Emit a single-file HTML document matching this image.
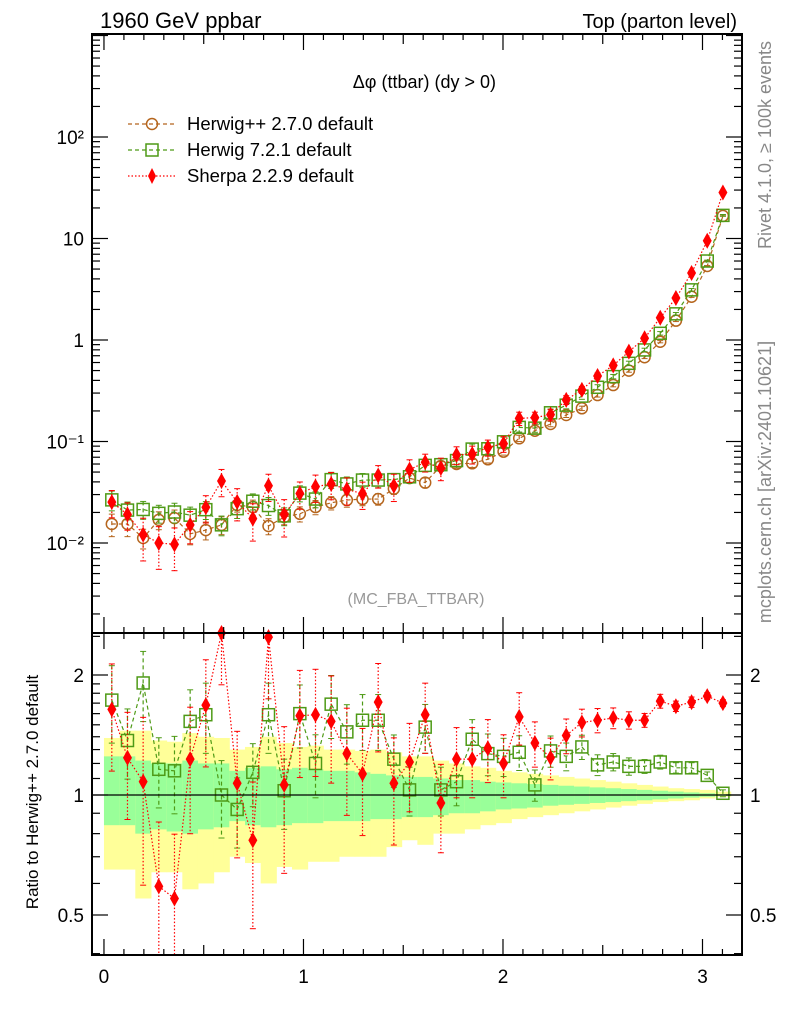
<!DOCTYPE html>
<html><head><meta charset="utf-8"><style>
html,body{margin:0;padding:0;background:#fff;}
svg{display:block;font-family:"Liberation Sans",sans-serif;}
</style></head><body>
<svg id="chart" width="786" height="1024" viewBox="0 0 786 1024" xmlns="http://www.w3.org/2000/svg">
<rect width="786" height="1024" fill="#fff"/>
<g id="bands"></g>
<g id="marks"></g>
<g id="axes"></g>
<text x="100" y="28" font-size="22">1960 GeV ppbar</text>
<text x="737" y="28" font-size="20" text-anchor="end">Top (parton level)</text>
<text x="496" y="88" font-size="18" text-anchor="end">Δφ (ttbar) (dy &gt; 0)</text>
<text x="416" y="604" font-size="16" fill="#999" text-anchor="middle">(MC_FBA_TTBAR)</text>
<text transform="translate(771,145) rotate(-90)" font-size="18" fill="#888" text-anchor="middle">Rivet 4.1.0, ≥ 100k events</text>
<text transform="translate(771,482) rotate(-90)" font-size="18" fill="#888" text-anchor="middle">mcplots.cern.ch [arXiv:2401.10621]</text>
<text transform="translate(38,792) rotate(-90)" font-size="17" text-anchor="middle">Ratio to Herwig++ 2.7.0 default</text>
<g>
 <g>
  <line x1="128" y1="124" x2="176" y2="124" stroke="#b5651d" stroke-width="1.2" stroke-dasharray="4,3"/>
  <circle cx="152" cy="124" r="5.5" fill="none" stroke="#b5651d" stroke-width="1.5"/>
  <text x="187" y="130" font-size="18.5">Herwig++ 2.7.0 default</text>
 </g>
 <g>
  <line x1="128" y1="150" x2="176" y2="150" stroke="#4e9a16" stroke-width="1.2" stroke-dasharray="4,3"/>
  <rect x="146" y="144" width="12" height="12" fill="none" stroke="#4e9a16" stroke-width="1.5"/>
  <text x="187" y="156" font-size="18.5">Herwig 7.2.1 default</text>
 </g>
 <g>
  <line x1="128" y1="176" x2="176" y2="176" stroke="#f00" stroke-width="1.2" stroke-dasharray="1.5,2"/>
  <path d="M152,168 L156,176 L152,184 L148,176Z" fill="#f00"/>
  <text x="187" y="182" font-size="18.5">Sherpa 2.2.9 default</text>
 </g>
</g>
</svg>
<script>
const herwigpp = [0.0154,0.0154,0.0112,0.0169,0.0176,0.0123,0.0134,0.0151,0.0237,0.0226,0.0147,0.0180,0.0194,0.0226,0.0249,0.0265,0.0271,0.0271,0.0342,0.0436,0.0393,0.0574,0.0601,0.0610,0.0668,0.0794,0.1076,0.1277,0.1487,0.1824,0.2124,0.287,0.360,0.499,0.676,0.962,1.55,2.67,5.36,16.7];
const herwig7 = [0.0266,0.0211,0.0214,0.0196,0.0202,0.0188,0.0213,0.0151,0.0218,0.0258,0.0234,0.0185,0.0310,0.0271,0.0421,0.0382,0.0417,0.0417,0.0421,0.0449,0.0582,0.0591,0.0649,0.0842,0.0848,0.0993,0.1377,0.1354,0.1918,0.228,0.280,0.342,0.436,0.589,0.798,1.164,1.81,3.12,6.00,16.9];
const sherpa = [0.0253,0.0191,0.0121,0.0100,0.0097,0.0151,0.0225,0.0408,0.0254,0.0174,0.0366,0.0191,0.0307,0.0359,0.0381,0.0337,0.0306,0.0463,0.0366,0.0528,0.0625,0.0548,0.0739,0.0750,0.0875,0.0953,0.169,0.172,0.184,0.257,0.323,0.442,0.562,0.768,1.041,1.655,2.59,4.57,9.49,28.4];
const herwig7Ratio = [1.73,1.37,1.91,1.16,1.15,1.53,1.59,1.0,0.92,1.14,1.59,1.025,1.6,1.2,1.69,1.44,1.54,1.54,1.23,1.03,1.48,1.03,1.08,1.38,1.27,1.25,1.28,1.06,1.29,1.25,1.32,1.19,1.21,1.18,1.18,1.21,1.17,1.17,1.12,1.01];
const sherpaRatio = [1.64,1.24,1.08,0.59,0.55,1.23,1.68,2.7,1.07,0.77,2.49,1.06,1.58,1.59,1.53,1.27,1.13,1.71,1.07,1.21,1.59,0.955,1.23,1.23,1.31,1.20,1.57,1.35,1.24,1.41,1.52,1.54,1.56,1.54,1.54,1.72,1.67,1.71,1.77,1.70];
const herwig7RelErr = [0.22,0.2,0.2,0.2,0.22,0.2,0.2,0.22,0.2,0.18,0.2,0.2,0.18,0.18,0.18,0.17,0.16,0.16,0.15,0.14,0.14,0.14,0.13,0.12,0.12,0.11,0.1,0.09,0.09,0.08,0.07,0.06,0.05,0.05,0.04,0.04,0.03,0.03,0.02,0.02];
const sherpaRelErr = [0.3,0.3,0.45,0.45,0.45,0.35,0.3,0.3,0.35,0.4,0.3,0.4,0.3,0.3,0.3,0.3,0.3,0.25,0.3,0.25,0.2,0.25,0.2,0.2,0.18,0.18,0.15,0.13,0.12,0.1,0.08,0.07,0.06,0.05,0.04,0.04,0.03,0.03,0.02,0.02];
const bandYellowUp = [1.39,1.45,1.45,1.37,1.36,1.43,1.40,1.39,1.30,1.32,1.40,1.35,1.32,1.33,1.30,1.30,1.29,1.30,1.28,1.25,1.25,1.22,1.20,1.18,1.17,1.15,1.14,1.13,1.12,1.11,1.10,1.09,1.08,1.07,1.06,1.05,1.04,1.035,1.03,1.02];
const bandYellowDn = [0.65,0.65,0.55,0.64,0.64,0.58,0.60,0.64,0.70,0.675,0.60,0.66,0.65,0.68,0.68,0.70,0.70,0.70,0.74,0.77,0.75,0.80,0.80,0.82,0.84,0.85,0.87,0.88,0.89,0.90,0.91,0.92,0.93,0.94,0.95,0.96,0.965,0.97,0.98,0.99];
const bandGreenUp = [1.25,1.25,1.22,1.2,1.2,1.22,1.2,1.2,1.15,1.17,1.18,1.16,1.17,1.16,1.15,1.15,1.14,1.13,1.12,1.11,1.11,1.10,1.09,1.09,1.08,1.075,1.07,1.065,1.06,1.055,1.05,1.045,1.04,1.035,1.03,1.025,1.02,1.015,1.01,1.005];
const bandGreenDn = [0.84,0.84,0.80,0.82,0.81,0.80,0.82,0.83,0.86,0.84,0.83,0.84,0.85,0.85,0.86,0.86,0.86,0.87,0.87,0.88,0.88,0.89,0.90,0.90,0.91,0.92,0.925,0.93,0.94,0.945,0.95,0.955,0.96,0.965,0.97,0.975,0.98,0.985,0.99,0.995];
const xTicks = [0,1,2,3];
const mainTickExps = [-2,-1,0,1,2];
const mainTickLabels = ["10⁻²","10⁻¹","1","10","10²"];
const ratioTicks = [0.5,1,2];
const ratioTickLabels = ["0.5","1","2"];

const NB = herwigpp.length, BW = Math.PI/NB;
const L=92,R=742,MT=34,MB=633,RT=633,RB=955;
const X0=-0.06,X1=3.198;
const sx = v => L+(v-X0)/(X1-X0)*(R-L);
const sy = v => 340-101.5*Math.log10(v);
const sr = v => { const y=795-120*Math.log2(v); return Math.max(RT,Math.min(RB,y)); };
const NS="http://www.w3.org/2000/svg";
function mk(parent,tag,attrs){const e=document.createElementNS(NS,tag);for(const k in attrs)e.setAttribute(k,attrs[k]);parent.appendChild(e);return e;}
const bands=document.getElementById('bands'), marks=document.getElementById('marks'), axes=document.getElementById('axes');

for(let i=0;i<NB;i++){
  const xa=sx(i*BW), xb=sx((i+1)*BW);
  const y1=mk(bands,'rect',{x:xa,y:sr(bandYellowUp[i]),width:xb-xa+0.5,height:sr(bandYellowDn[i])-sr(bandYellowUp[i]),fill:'#ffff99'});
  
  
  const g1=mk(bands,'rect',{x:xa,y:sr(bandGreenUp[i]),width:xb-xa+0.5,height:sr(bandGreenDn[i])-sr(bandGreenUp[i]),fill:'#99ff99'});
  
  
}
const one=mk(axes,'line',{x1:L,x2:R,y1:sr(1),y2:sr(1),stroke:'#000','stroke-width':1.2});



function clipY(y,top,bot){return Math.max(top,Math.min(bot,y));}
function series(vals,ys,errs,color,dash,marker,name,top,bot){
  const g=mk(marks,'g',{});
  
  
  let pts=vals.map((v,i)=>[sx((i+0.5)*BW),clipY(ys(v),top,bot)]);
  mk(g,'polyline',{points:pts.map(p=>p.join(',')).join(' '),fill:'none',stroke:color,'stroke-width':1.2,'stroke-dasharray':dash});
  vals.forEach((v,i)=>{
    const x=pts[i][0];
    if(errs){
      const ya=clipY(ys(v*(1+errs[i])),top,bot), yb=clipY(ys(Math.max(v*(1-errs[i]),1e-9)),top,bot);
      mk(g,'line',{x1:x,x2:x,y1:ya,y2:yb,stroke:color,'stroke-width':1.2,'stroke-dasharray':dash});
      mk(g,'line',{x1:x-3,x2:x+3,y1:ya,y2:ya,stroke:color,'stroke-width':1});
      mk(g,'line',{x1:x-3,x2:x+3,y1:yb,y2:yb,stroke:color,'stroke-width':1});
    }
    const y=ys(v); if(y<top-2||y>bot+2) return;
    let m;
    if(marker==='circle') m=mk(g,'circle',{cx:x,cy:y,r:5.5,fill:'none',stroke:color,'stroke-width':1.5});
    else if(marker==='square') m=mk(g,'rect',{x:x-6,y:y-6,width:12,height:12,fill:'none',stroke:color,'stroke-width':1.5});
    else m=mk(g,'path',{d:`M${x},${y-8}L${x+4.5},${y}L${x},${y+8}L${x-4.5},${y}Z`,fill:color});
    
    
  });
}
const hErr = bandGreenUp.map(v=>v-1);
series(herwigpp,sy,hErr,'#b5651d','4,3','circle','herwigpp-main',MT,MB);
series(herwig7,sy,herwig7RelErr,'#4e9a16','4,3','square','herwig7-main',MT,MB);
series(sherpa,sy,sherpaRelErr,'#f00','1.5,2','diamond','sherpa-main',MT,MB);
series(herwig7Ratio,sr,herwig7RelErr,'#4e9a16','4,3','square','herwig7-ratio',RT,RB);
series(sherpaRatio,sr,sherpaRelErr,'#f00','1.5,2','diamond','sherpa-ratio',RT,RB);

[[MT,MB],[RT,RB]].forEach(([t,b],k)=>{
  const f=mk(axes,'rect',{x:L,y:t,width:R-L,height:b-t,fill:'none',stroke:'#000','stroke-width':2});
  
  
});
for(let k=0;k<=32;k++){
  const v=k/10, x=sx(v); if(x<L||x>R) continue;
  const major=(k%10===0), len=major?16:(k%5===0?10:6);
  [[MT,1],[MB,-1],[RT,1],[RB,-1]].forEach(([y,d])=>mk(axes,'line',{x1:x,x2:x,y1:y,y2:y+d*len,stroke:'#000','stroke-width':1.2}));
}
xTicks.forEach(v=>{
  const t=mk(axes,'text',{x:sx(v),y:983,'font-size':19,'text-anchor':'middle'});t.textContent=String(v);
  
  
});
for(let e=-3;e<=3;e++){
  for(let m=1;m<=9;m++){
    const v=m*Math.pow(10,e), y=sy(v); if(y<MT||y>MB) continue;
    const len=m===1?16:8;
    mk(axes,'line',{x1:L,x2:L+len,y1:y,y2:y,stroke:'#000','stroke-width':1.2});
    mk(axes,'line',{x1:R,x2:R-len,y1:y,y2:y,stroke:'#000','stroke-width':1.2});
  }
}
mainTickExps.forEach((e,i)=>{
  const t=mk(axes,'text',{x:84,y:sy(Math.pow(10,e))+7,'font-size':19,'text-anchor':'end'});t.textContent=mainTickLabels[i];
  
  
});
const rminor=[0.4,0.5,0.6,0.7,0.8,0.9,1,1.1,1.2,1.3,1.4,1.5,1.6,1.7,1.8,1.9,2,2.5];
rminor.forEach(v=>{
  const y=795-120*Math.log2(v); if(y<RT||y>RB) return;
  const len=ratioTicks.includes(v)?16:8;
  mk(axes,'line',{x1:L,x2:L+len,y1:y,y2:y,stroke:'#000','stroke-width':1.2});
  mk(axes,'line',{x1:R,x2:R-len,y1:y,y2:y,stroke:'#000','stroke-width':1.2});
});
ratioTicks.forEach((v,i)=>{
  const y=sr(v)+7;
  const a=mk(axes,'text',{x:84,y:y,'font-size':19,'text-anchor':'end'});a.textContent=ratioTickLabels[i];
  
  
  const b=mk(axes,'text',{x:750,y:y,'font-size':19});b.textContent=ratioTickLabels[i];
  
  
});
</script>
</body></html>
